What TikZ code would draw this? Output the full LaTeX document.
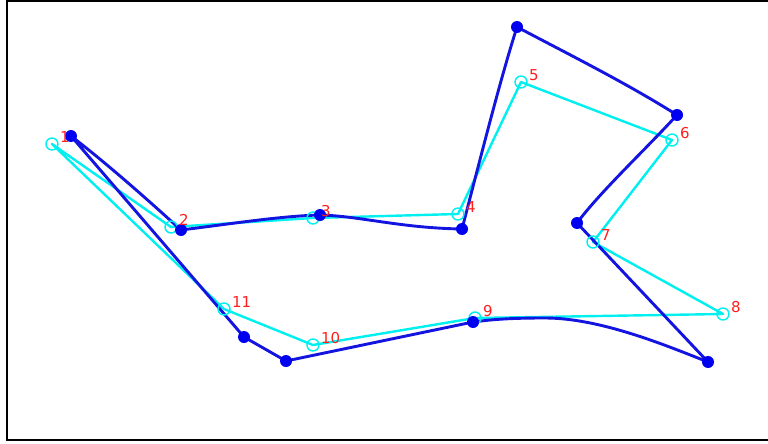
\documentclass[tikz,border=0pt]{standalone}
\usepackage{fontspec}
\setmainfont{DejaVu Sans}
\definecolor{pcyan}{RGB}{0,240,240}
\definecolor{pblue}{RGB}{20,20,225}
\definecolor{pdot}{RGB}{0,0,240}
\definecolor{pred}{RGB}{255,30,30}
\begin{document}
\begin{tikzpicture}[x=1pt,y=-1pt,
  bluecurve/.style={draw=pblue,line width=2.9pt,line join=round},
  cyanline/.style={draw=pcyan,line width=2.4pt,line join=round},
  bdot/.style={circle,fill=pdot,inner sep=0pt,minimum size=12pt},
  cring/.style={circle,draw=pcyan,line width=1.4pt,fill=none,inner sep=0pt,minimum size=12pt},
  lbl/.style={anchor=south west,inner sep=0pt,text=pred,font=\fontsize{15}{17}\selectfont}]
\useasboundingbox (0,0) rectangle (768,444);
\draw[black,line width=2.2pt] (768,1) -- (7,1) -- (7,440) -- (768,440);
% cyan polygon points
\coordinate (c1) at (52,144);
\coordinate (c2) at (171,227);
\coordinate (c3) at (313,218);
\coordinate (c4) at (458,214);
\coordinate (c5) at (521,82);
\coordinate (c6) at (672,140);
\coordinate (c7) at (593,242);
\coordinate (c8) at (723,314);
\coordinate (c9) at (475,318);
\coordinate (c10) at (313,345);
\coordinate (c11) at (224,309);
% blue curve points
\coordinate (b1) at (71,136);
\coordinate (b2) at (181,230);
\coordinate (b3) at (320,215);
\coordinate (b4) at (462,229);
\coordinate (b5) at (517,27);
\coordinate (b6) at (677,115);
\coordinate (b7) at (577,223);
\coordinate (b8) at (708,362);
\coordinate (bm) at (545,318);
\coordinate (b9) at (473,322);
\coordinate (b10) at (286,361);
\coordinate (b11) at (244,337);
% cyan polygon
\draw[cyanline] (c1) -- (c2) -- (c3) -- (c4) -- (c5) -- (c6) -- (c7) -- (c8) -- (c9) -- (c10) -- (c11) -- cycle;
% blue curve
\draw[bluecurve] (b1) .. controls (110,166) and (150,202) .. (b2)
  .. controls (230,224) and (280,216) .. (b3)
  .. controls (360,216) and (400,228) .. (b4)
  .. controls (480,160) and (500,80) .. (b5)
  .. controls (572,56) and (628,84) .. (b6)
  .. controls (645,150) and (600,192) .. (b7)
  -- (b8) .. controls (665,345) and (600,318) .. (bm)
  .. controls (515,318) and (495,319) .. (b9)
  -- (b10) -- (b11) -- cycle;
% markers
\foreach \i in {1,...,11} {
  \node[cring] (r\i) at (c\i) {};
  \node[bdot] (d\i) at (b\i) {};
}
% labels
\foreach \i in {1,...,11} {
  \node[lbl] (l\i) at ([xshift=8pt,yshift=1pt]c\i) {\i};
}
\end{tikzpicture}
\end{document}
